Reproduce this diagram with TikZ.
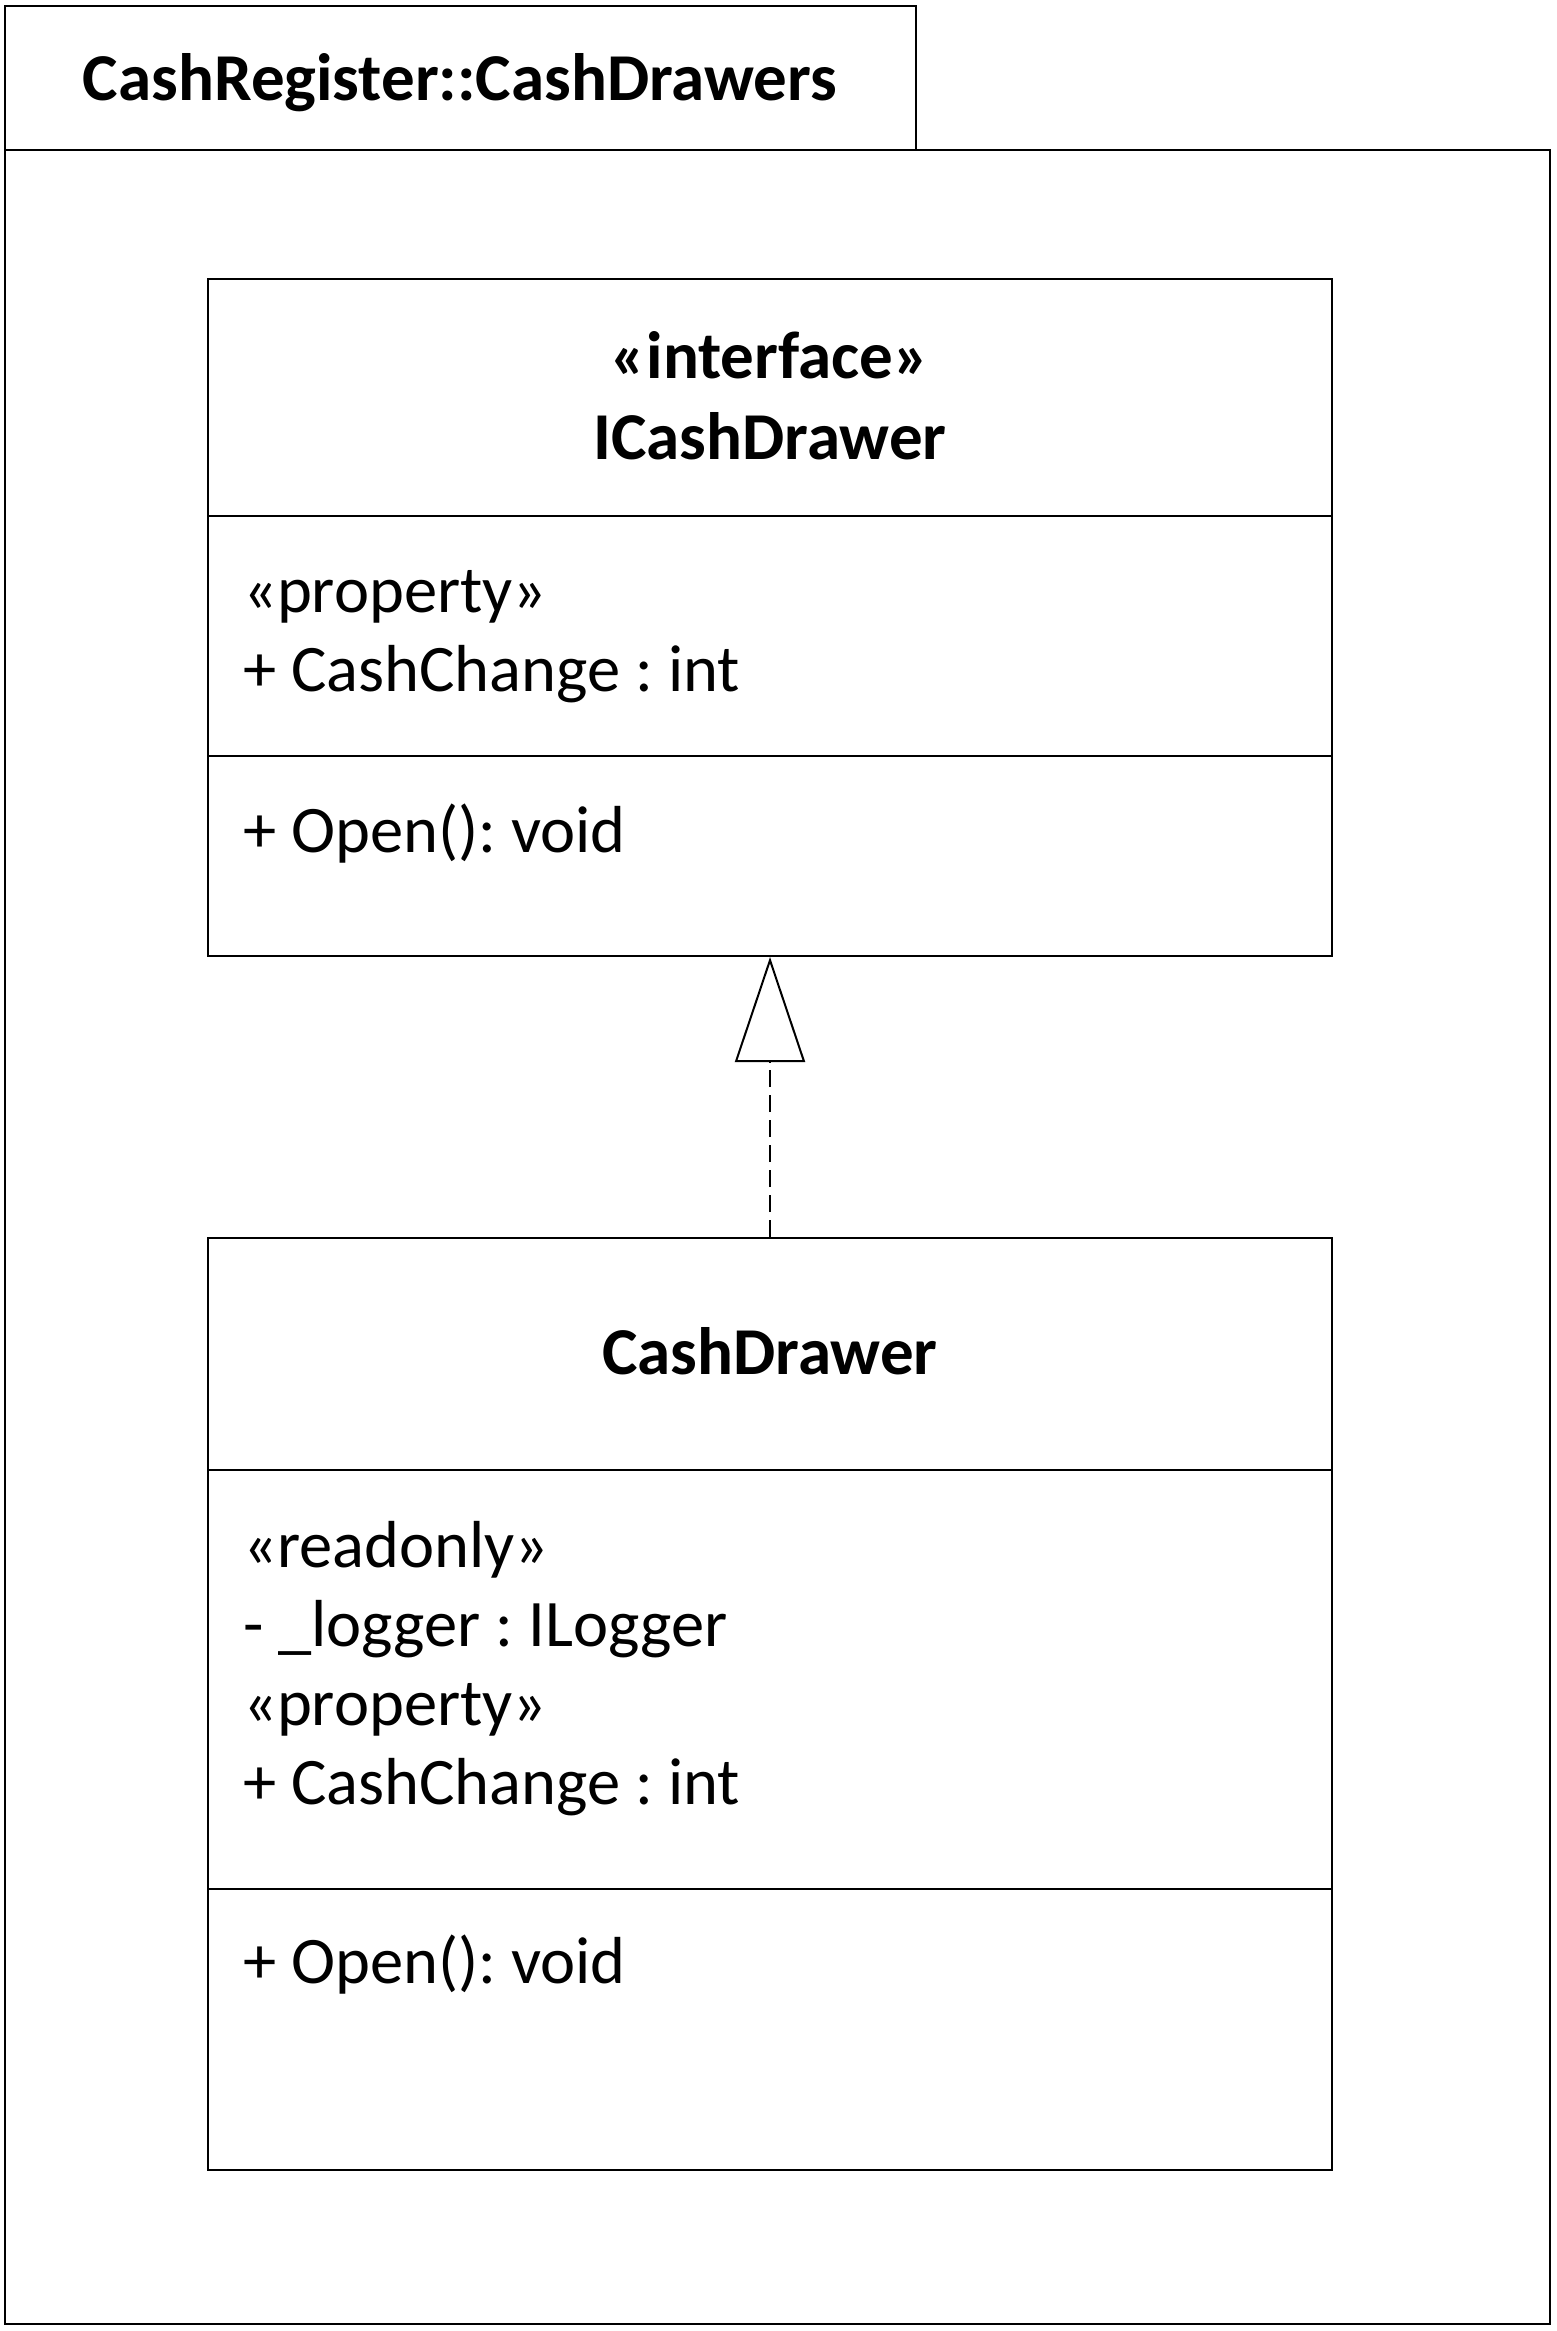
\documentclass[tikz,border=0pt]{standalone}
\usepackage{fontspec}
\setmainfont{Carlito}
\usetikzlibrary{arrows.meta}
\frenchspacing

\tikzset{
  classbox/.style={draw, line width=2pt, minimum width=1124pt, inner sep=0pt},
  member/.style={anchor=base west, inner sep=0pt},
  classname/.style={anchor=base, inner sep=0pt, font=\fontsize{67}{79}\selectfont\bfseries},
  realizes/.style={line width=2pt, dash pattern=on 17pt off 8pt,
    -{Triangle[open, length=105pt, width=70pt, line width=2pt]}}
}

\begin{document}
\begin{tikzpicture}[x=1pt, y=-1pt, line width=2pt, font=\fontsize{66.5}{79}\selectfont]
\useasboundingbox (0,0) rectangle (1556,2331);

% package frame
\draw (4.5,6) rectangle (915.5,150);
\draw (4.5,150) rectangle (1550,2324);
\node[classname] (pkgname) at (460,100) {CashRegister::CashDrawers};

% interface
\node[classbox, minimum height=677pt] (iface) at (770,617.5) {};
\draw (208,516) -- (1332,516);
\draw (208,756) -- (1332,756);
\node[classname] (ifacestereo) at (770,378) {«interface»};
\node[classname] (ifacename) at (770,459) {ICashDrawer};
\node[member] (ifaceprop) at (242,612) {«property»};
\node[member] (ifacechange) at (242,691) {+ CashChange : int};
\node[member] (ifaceopen) at (242,852) {+ Open(): void};

% implementation
\node[classbox, minimum height=932pt] (impl) at (770,1704) {};
\draw (208,1470) -- (1332,1470);
\draw (208,1889) -- (1332,1889);
\node[classname] (implname) at (770,1374) {CashDrawer};
\node[member] (implro) at (242,1567) {«readonly»};
\node[member] (impllogger) at (242,1646) {- \_logger : ILogger};
\node[member] (implprop) at (242,1725) {«property»};
\node[member] (implchange) at (242,1804) {+ CashChange : int};
\node[member] (implopen) at (242,1983) {+ Open(): void};

\draw[realizes] (impl.north) -- (iface.south);
\end{tikzpicture}
\end{document}
